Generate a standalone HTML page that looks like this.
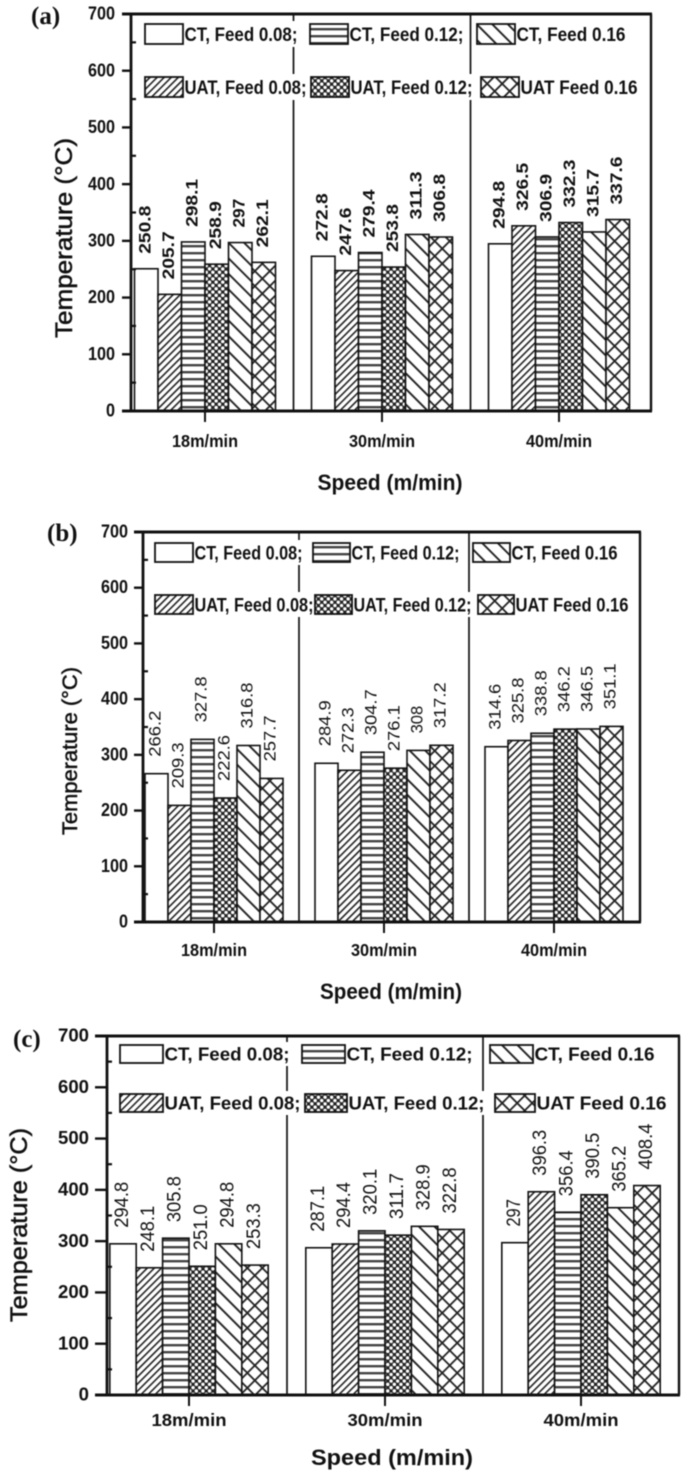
<!DOCTYPE html>
<html>
<head>
<meta charset="utf-8">
<title>Temperature vs speed charts</title>
<style>
html,body{margin:0;padding:0;background:#fff;}
#chart{display:block;width:685px;height:1475px;filter:blur(0.5px);}
text{font-family:"Liberation Sans",sans-serif;fill:#111;}
</style>
</head>
<body>
<svg id="chart" xmlns="http://www.w3.org/2000/svg" width="685" height="1475" viewBox="0 0 685 1475">
<defs>
<pattern id="p-diag-dense" patternUnits="userSpaceOnUse" width="5" height="5" patternTransform="rotate(45)"><rect width="5" height="5" fill="#fff"/><rect x="0" width="1.6" height="5" fill="#222"/></pattern>
<pattern id="p-horizontal" patternUnits="userSpaceOnUse" width="7" height="7"><rect width="7" height="7" fill="#fff"/><rect y="0" width="7" height="2.4" fill="#444"/></pattern>
<pattern id="p-dots" patternUnits="userSpaceOnUse" width="6.6" height="6.6"><rect width="6.6" height="6.6" fill="#222"/><circle cx="1.65" cy="1.65" r="1.75" fill="#fff"/><circle cx="4.95" cy="4.95" r="1.75" fill="#fff"/></pattern>
<pattern id="p-diag-sparse" patternUnits="userSpaceOnUse" width="11" height="11" patternTransform="rotate(-45)"><rect width="11" height="11" fill="#fff"/><rect x="0" width="1.9" height="11" fill="#222"/></pattern>
<pattern id="p-cross" patternUnits="userSpaceOnUse" width="10.6" height="10.6" patternTransform="rotate(45)"><rect width="10.6" height="10.6" fill="#fff"/><rect x="0" width="1.8" height="10.6" fill="#222"/><rect y="0" width="10.6" height="1.8" fill="#222"/></pattern>
</defs>
</svg>
<script>
var categories = ['18m/min', '30m/min', '40m/min'];
var seriesNames = ['CT, Feed 0.08', 'UAT, Feed 0.08', 'CT, Feed 0.12', 'UAT, Feed 0.12', 'CT, Feed 0.16', 'UAT Feed 0.16'];
var legendSeriesOrder = [0, 2, 4, 1, 3, 5];
var yTickLabels = [0, 100, 200, 300, 400, 500, 600, 700];

var panelAValues = [
  [250.8, 205.7, 298.1, 258.9, 297, 262.1],
  [272.8, 247.6, 279.4, 253.8, 311.3, 306.8],
  [294.8, 326.5, 306.9, 332.3, 315.7, 337.6]
];
var panelALabels = [
  ['250.8', '205.7', '298.1', '258.9', '297', '262.1'],
  ['272.8', '247.6', '279.4', '253.8', '311.3', '306.8'],
  ['294.8', '326.5', '306.9', '332.3', '315.7', '337.6']
];
var panelBValues = [
  [266.2, 209.3, 327.8, 222.6, 316.8, 257.7],
  [284.9, 272.3, 304.7, 276.1, 308, 317.2],
  [314.6, 325.8, 338.8, 346.2, 346.5, 351.1]
];
var panelBLabels = [
  ['266.2', '209.3', '327.8', '222.6', '316.8', '257.7'],
  ['284.9', '272.3', '304.7', '276.1', '308', '317.2'],
  ['314.6', '325.8', '338.8', '346.2', '346.5', '351.1']
];
var panelCValues = [
  [294.8, 248.1, 305.8, 251.0, 294.8, 253.3],
  [287.1, 294.4, 320.1, 311.7, 328.9, 322.8],
  [297, 396.3, 356.4, 390.5, 365.2, 408.4]
];
var panelCLabels = [
  ['294.8', '248.1', '305.8', '251.0', '294.8', '253.3'],
  ['287.1', '294.4', '320.1', '311.7', '328.9', '322.8'],
  ['297', '396.3', '356.4', '390.5', '365.2', '408.4']
];

var NS = 'http://www.w3.org/2000/svg';
var root = document.getElementById('chart');
var fills = ['#fff', 'url(#p-diag-dense)', 'url(#p-horizontal)', 'url(#p-dots)', 'url(#p-diag-sparse)', 'url(#p-cross)'];

function mk(tag, parent) {
  var el = document.createElementNS(NS, tag);
  parent.appendChild(el);
  return el;
}
function line(parent, x1, y1, x2, y2, w) {
  var l = mk('line', parent);
  l.setAttribute('x1', x1);
  l.setAttribute('y1', y1);
  l.setAttribute('x2', x2);
  l.setAttribute('y2', y2);
  l.setAttribute('stroke', '#111');
  l.setAttribute('stroke-width', w);
  return l;
}
function label(parent, str, x, y, size, weight, anchor, fit) {
  var t = mk('text', parent);
  t.textContent = str;
  t.setAttribute('x', x);
  t.setAttribute('y', y);
  t.setAttribute('font-size', size);
  t.setAttribute('font-weight', weight);
  t.setAttribute('text-anchor', anchor);
  if (fit) {
    t.setAttribute('textLength', fit);
    t.setAttribute('lengthAdjust', 'spacingAndGlyphs');
  }
  return t;
}

function drawPanel(p) {
  var g = mk('g', root);
  
  

  function yScale(v) { return p.y0 + (p.y700 - p.y0) * v / 700; }
  function xCenter(i) { return p.c0 + p.step * i; }
  function barX(i, s) { return xCenter(i) - 3 * p.barW + s * p.barW; }

  // dividers
  for (var d = 0; d < categories.length - 1; d++) {
    var dx = xCenter(d) + p.step / 2;
    var div = line(g, dx, p.y700, dx, p.y0, 1.7);
    
    
  }

  // bars and value labels
  p.values.forEach(function (groupValues, i) {
    groupValues.forEach(function (v, s) {
      var bar = mk('rect', g);
      
      
      bar.setAttribute('x', barX(i, s));
      bar.setAttribute('y', yScale(v));
      bar.setAttribute('width', p.barW);
      bar.setAttribute('height', p.y0 - yScale(v));
      bar.setAttribute('fill', fills[s]);
      bar.setAttribute('stroke', '#111');
      bar.setAttribute('stroke-width', 1.6);
      var lx = barX(i, s) + p.barW / 2 - 2 + p.valueSize * 0.36;
      var ly = yScale(v) - p.valueGap;
      var holder = mk('g', g);
      
      
      holder.setAttribute('transform', 'translate(' + lx + ' ' + ly + ') rotate(-90)');
      var str = p.labels[i][s];
      var val = label(holder, str, 0, 0, p.valueSize, p.valueWeight, 'start', p.valueLen * (str.length > 3 ? 1 : 0.6));
      
      
    });
  });

  // legend
  p.legend.forEach(function (item, idx) {
    var s = legendSeriesOrder[idx];
    var bg = mk('rect', g);
    
    
    bg.setAttribute('x', item[0]);
    bg.setAttribute('y', item[1] - 3);
    bg.setAttribute('width', item[2] + item[4] + 3);
    bg.setAttribute('height', p.swH + 6);
    bg.setAttribute('fill', '#fff');
    var sw = mk('rect', g);
    
    
    sw.setAttribute('x', item[0]);
    sw.setAttribute('y', item[1]);
    sw.setAttribute('width', item[2]);
    sw.setAttribute('height', p.swH);
    sw.setAttribute('fill', fills[s]);
    sw.setAttribute('stroke', '#111');
    sw.setAttribute('stroke-width', 1.8);
    var txt = label(g, item[3], item[0] + item[2] + 1.5, item[1] + p.swH / 2 + p.legendSize * 0.36, p.legendSize, 'bold', 'start', item[4]);
    
    
  });

  // frame
  var top = line(g, p.xL - p.tickLen, p.y700, p.xR + 1, p.y700, 3);
  
  
  var right = line(g, p.xR, p.y700, p.xR, p.y0, 2.4);
  
  
  var yAxis = line(g, p.xL, p.y700, p.xL, p.y0 + 1, 2.8);
  
  
  var xAxis = line(g, p.xL - p.tickLen, p.y0, p.xR + 1, p.y0, 3);
  
  

  // y ticks
  yTickLabels.forEach(function (tick) {
    var ty = yScale(tick);
    var mark = line(g, p.xL - p.tickLen, ty, p.xL, ty, 2.4);
    
    
    var tickStr = String(tick);
    var tl = label(g, tickStr, p.xL - p.tickLen - p.tickGap, ty + p.tickSize * 0.36 - 1, p.tickSize, 'bold', 'end', p.tickW * tickStr.length / 3);
    
    
    if (tick < 700) {
      var my = yScale(tick + 50);
      var minor = line(g, p.xL, my, p.xL + 5, my, 2.2);
      
      
    }
  });

  // x ticks
  categories.forEach(function (cat, i) {
    var cx = xCenter(i);
    var xt = line(g, cx, p.y0, cx, p.y0 + 11, 2);
    
    
    var cl = label(g, cat, cx, p.y0 + p.catDy, 17.5, 'bold', 'middle', p.catW);
    
    
  });

  // titles
  var titleHolder = mk('g', g);
  
  
  titleHolder.setAttribute('transform', 'translate(' + p.yTitleX + ' ' + p.yTitleY + ') rotate(-90)');
  var yt = label(titleHolder, 'Temperature (°C)', 0, 0, p.yTitleSize, 'normal', 'middle', p.yTitleLen);
  yt.setAttribute('stroke', '#111');
  yt.setAttribute('stroke-width', '0.5');
  
  
  var xtl = label(g, 'Speed (m/min)', p.xTitleX, p.xTitleY, 22, 'bold', 'middle', p.xTitleLen);
  
  
  var letter = label(g, p.letter, p.letterX, p.letterY, 25, 'bold', 'start');
  letter.style.fontFamily = '"Liberation Serif", serif';
  
  
}

drawPanel({
  name: 'panel-a', letter: '(a)', letterX: 31, letterY: 24,
  xL: 131, xR: 651, y700: 14, y0: 411, c0: 205, step: 177, barW: 23.5,
  values: panelAValues, labels: panelALabels, valueSize: 17, valueWeight: 'bold', valueGap: 15, valueLen: 48,
  swH: 20, legendSize: 19, tickSize: 18.5, tickW: 27, tickLen: 9, tickGap: 7, catDy: 36, catW: 66,
  yTitleX: 72, yTitleY: 238, yTitleSize: 24, yTitleLen: 200, xTitleX: 390, xTitleY: 490, xTitleLen: 145,
  legend: [
    [145, 24, 38, 'CT, Feed 0.08;', 113],
    [310, 24, 38, 'CT, Feed 0.12;', 114],
    [477, 24, 38, 'CT, Feed 0.16', 109],
    [145, 77, 38, 'UAT, Feed 0.08;', 122],
    [311, 77, 38, 'UAT, Feed 0.12;', 122],
    [481, 77, 38, 'UAT Feed 0.16', 117]
  ]
});
drawPanel({
  name: 'panel-b', letter: '(b)', letterX: 47, letterY: 541,
  xL: 143, xR: 640, y700: 532, y0: 922, c0: 214, step: 170, barW: 23,
  values: panelBValues, labels: panelBLabels, valueSize: 17, valueWeight: 'normal', valueGap: 17, valueLen: 46,
  swH: 19, legendSize: 19, tickSize: 18, tickW: 27, tickLen: 9, tickGap: 6, catDy: 34, catW: 66,
  yTitleX: 77, yTitleY: 751, yTitleSize: 21, yTitleLen: 168, xTitleX: 391, xTitleY: 999, xTitleLen: 142,
  legend: [
    [155, 543, 38, 'CT, Feed 0.08;', 108],
    [313, 543, 37, 'CT, Feed 0.12;', 108],
    [473, 543, 37, 'CT, Feed 0.16', 106],
    [155, 595, 38, 'UAT, Feed 0.08;', 119],
    [315, 595, 37, 'UAT, Feed 0.12;', 118],
    [478, 595, 36, 'UAT Feed 0.16', 113]
  ]
});
drawPanel({
  name: 'panel-c', letter: '(c)', letterX: 13, letterY: 1047,
  xL: 107, xR: 679, y700: 1036, y0: 1395, c0: 189, step: 196, barW: 26.4,
  values: panelCValues, labels: panelCLabels, valueSize: 19, valueWeight: 'normal', valueGap: 16, valueLen: 46,
  swH: 18, legendSize: 18, tickSize: 18.5, tickW: 31, tickLen: 12, tickGap: 6, catDy: 31, catW: 75,
  yTitleX: 27, yTitleY: 1225, yTitleSize: 24, yTitleLen: 194, xTitleX: 392, xTitleY: 1465, xTitleLen: 162,
  legend: [
    [120, 1045, 43, 'CT, Feed 0.08;', 125],
    [302, 1045, 43, 'CT, Feed 0.12;', 126],
    [490, 1045, 43, 'CT, Feed 0.16', 120],
    [120, 1094, 43, 'UAT, Feed 0.08;', 136],
    [305, 1094, 42, 'UAT, Feed 0.12;', 136],
    [495, 1094, 40, 'UAT Feed 0.16', 130]
  ]
});
</script>
</body>
</html>
